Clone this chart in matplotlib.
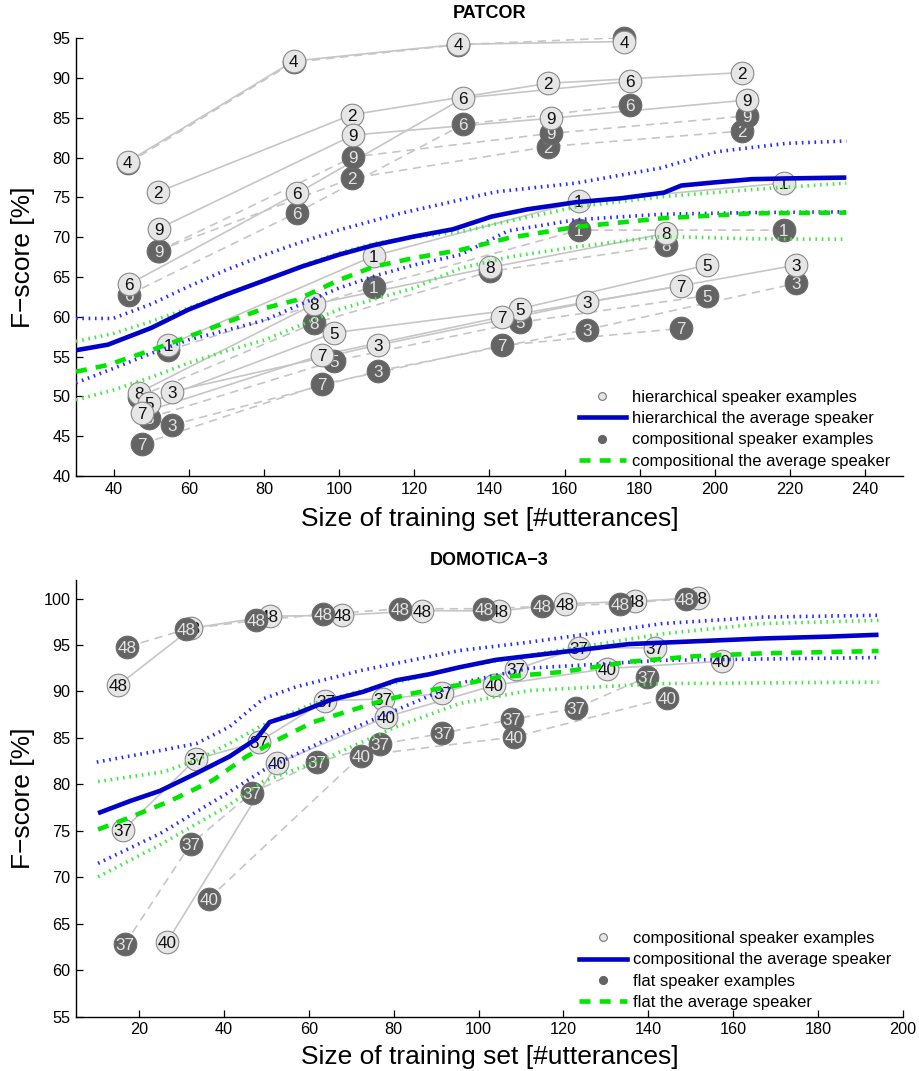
import matplotlib
matplotlib.use('Agg')
import matplotlib.pyplot as plt
from matplotlib.lines import Line2D

plt.rcParams['font.family'] = ['Liberation Sans', 'DejaVu Sans']

# ---------------- PATCOR (top) ----------------
p_labels = ['4', '2', '9', '6', '1', '8', '5', '7', '3']
p_x = [
    [43.8, 87.9, 131.7, 175.9],
    [51.7, 103.4, 155.6, 207.2],
    [52.1, 103.8, 156.3, 208.6],
    [44.1, 88.8, 133.1, 177.5],
    [54.6, 109.2, 163.8, 218.4],
    [46.7, 93.4, 140.25, 187.1],
    [49.4, 98.7, 148.05, 197.8],
    [47.5, 95.4, 143.4, 191.0],
    [55.5, 110.5, 166.0, 221.7],
]
p_hier = [
    [79.5, 92.15, 94.25, 94.6],
    [75.65, 85.4, 89.35, 90.7],
    [71.1, 82.85, 84.95, 87.25],
    [64.1, 75.5, 87.5, 89.6],
    [56.46, 67.65, 74.5, 76.8],
    [50.47, 61.6, 66.2, 70.5],
    [49.2, 58.0, 61.0, 66.5],
    [47.95, 55.2, 60.0, 63.9],
    [50.6, 56.46, 61.8, 66.5],
]
p_comp = [
    [79.3, 92.0, 94.2, 95.1],
    [68.3, 77.4, 81.4, 83.35],
    [68.3, 80.1, 83.05, 85.25],
    [62.8, 73.1, 84.2, 86.6],
    [55.8, 63.8, 70.9, 70.9],
    [49.96, 59.2, 65.7, 69.0],
    [47.3, 54.45, 59.3, 62.65],
    [44.0, 51.5, 56.4, 58.55],
    [46.4, 53.2, 58.4, 64.2],
]

p_hier_avg_x = [30, 38.5, 50, 59.9, 70, 80.3, 90, 99.9, 109.2, 120, 130.3, 140.6, 150, 163, 175, 186.4, 191.1, 200, 209.8, 220, 235]
p_hier_avg_y = [55.8, 56.5, 58.6, 60.9, 62.8, 64.6, 66.3, 67.8, 69.0, 70.1, 71.0, 72.6, 73.5, 74.4, 74.9, 75.6, 76.5, 76.9, 77.3, 77.4, 77.5]
p_hier_hi_x = [30, 39.9, 50, 59.9, 70, 80.3, 90, 99.9, 116.3, 141.6, 163, 185.5, 200.5, 219.1, 235]
p_hier_hi_y = [59.8, 59.8, 61.6, 63.8, 65.9, 67.8, 69.4, 70.9, 73.0, 75.7, 76.8, 78.7, 80.75, 81.8, 82.1]
p_hier_lo_x = [30, 39.9, 50, 59.9, 70, 80.3, 90, 99.9, 110, 119.8, 132.3, 145, 163, 186, 210, 235]
p_hier_lo_y = [51.7, 53.5, 55.4, 57.1, 58.3, 59.6, 61.6, 63.6, 65.2, 66.5, 67.8, 70.8, 72.2, 72.9, 73.1, 73.2]

p_comp_avg_x = [30, 38.5, 50, 59.9, 70, 80.3, 88.6, 99.9, 109.2, 120, 132.3, 145, 163, 186.4, 209.8, 235]
p_comp_avg_y = [53.1, 53.95, 55.8, 57.5, 59.3, 61.1, 62.1, 64.6, 66.3, 67.4, 68.4, 69.9, 71.3, 72.4, 73.0, 73.1]
p_comp_hi_x = [30, 39.9, 50, 59.9, 70, 80.3, 90, 99.9, 109.2, 120, 132.3, 145, 163, 186, 210, 235]
p_comp_hi_y = [56.9, 57.9, 59.4, 61.1, 62.9, 64.6, 66.4, 68.0, 69.2, 70.0, 70.7, 72.0, 73.8, 75.1, 76.0, 76.8]
p_comp_lo_x = [30, 39.9, 50, 59.9, 70, 80.3, 90, 99.9, 110, 119.8, 132.3, 145, 163, 186, 210, 235]
p_comp_lo_y = [49.55, 50.8, 52.4, 54.2, 55.7, 57.1, 59.0, 60.9, 62.3, 63.6, 66.1, 67.5, 68.8, 70.1, 69.8, 69.75]

p_legend = ['hierarchical speaker examples', 'hierarchical the average speaker',
            'compositional speaker examples', 'compositional the average speaker']
p_xticks = [40, 60, 80, 100, 120, 140, 160, 180, 200, 220, 240]
p_yticks = [40, 45, 50, 55, 60, 65, 70, 75, 80, 85, 90, 95]

# ---------------- DOMOTICA-3 (bottom) ----------------
d_labels = ['48', '37', '40']
d_comp_x = [
    [15.06, 32.3, 50.75, 67.85, 86.7, 104.9, 120.4, 137.0, 151.8],
    [16.2, 33.3, 48.2, 63.9, 77.4, 91.5, 108.9, 123.7, 141.6],
    [26.6, 52.5, 78.2, 103.7, 130.35, 157.3],
]
d_comp_y = [
    [90.67, 96.8, 98.1, 98.2, 98.7, 98.66, 99.45, 99.7, 100.1],
    [75.07, 82.7, 84.6, 89.0, 89.2, 89.8, 92.4, 94.7, 94.7],
    [63.06, 82.25, 87.25, 90.67, 92.46, 93.25],
]
d_flat_x = [
    [17.2, 31.15, 47.6, 63.3, 81.5, 101.3, 115.06, 133.3, 148.8],
    [16.6, 32.1, 46.6, 61.9, 76.8, 91.5, 107.85, 122.9, 139.8],
    [36.4, 72.35, 108.4, 144.5],
]
d_flat_y = [
    [94.8, 96.7, 97.65, 98.3, 98.9, 98.9, 99.16, 99.45, 99.99],
    [62.8, 73.57, 79.1, 82.4, 84.3, 85.5, 87.0, 88.2, 91.56],
    [67.7, 83.1, 85.1, 89.3],
]

d_comp_avg_x = [10.3, 17.8, 24.9, 33.5, 41.3, 47.6, 50.75, 57.0, 64.9, 72.7, 80.6, 88.4, 95.5, 104.1, 119.8, 135.5, 151.2, 166.8, 182.5, 194.3]
d_comp_avg_y = [76.9, 78.2, 79.3, 81.2, 83.0, 84.9, 86.7, 87.6, 89.05, 89.95, 91.2, 91.85, 92.6, 93.4, 94.25, 95.1, 95.4, 95.7, 95.9, 96.1]
d_comp_hi_x = [10.0, 25.65, 33.5, 41.3, 49.2, 57.0, 72.7, 95.5, 111.9, 143.3, 166.8, 194.3]
d_comp_hi_y = [82.4, 83.7, 84.4, 86.2, 89.2, 90.5, 92.3, 94.4, 95.3, 97.3, 98.0, 98.2]
d_comp_lo_x = [10.3, 24.9, 40.6, 49.2, 64.9, 80.6, 95.5, 111.9, 143.3, 194.3]
d_comp_lo_y = [71.5, 74.7, 79.0, 81.5, 85.0, 88.0, 90.9, 92.5, 93.35, 93.65]

d_flat_avg_x = [10.3, 17.0, 27.2, 32.7, 37.4, 45.3, 53.1, 61.0, 68.8, 76.6, 84.5, 95.5, 104.1, 119.8, 135.5, 151.2, 166.8, 194.3]
d_flat_avg_y = [75.15, 76.3, 78.2, 79.4, 80.45, 83.0, 84.9, 86.7, 87.8, 88.9, 89.8, 90.7, 91.5, 92.1, 93.2, 93.8, 94.1, 94.35]
d_flat_hi_x = [10.3, 25.65, 33.5, 41.3, 49.2, 61.0, 72.7, 95.5, 111.9, 143.3, 166.8, 194.3]
d_flat_hi_y = [80.3, 81.35, 82.6, 84.4, 86.4, 88.7, 90.1, 92.6, 93.9, 96.2, 97.3, 97.65]
d_flat_lo_x = [10.3, 24.9, 40.6, 49.2, 64.9, 80.6, 95.5, 111.9, 143.3, 194.3]
d_flat_lo_y = [70.05, 73.5, 77.6, 80.3, 83.0, 86.2, 88.7, 90.1, 90.85, 91.0]

d_legend = ['compositional speaker examples', 'compositional the average speaker',
            'flat speaker examples', 'flat the average speaker']
d_xticks = [20, 40, 60, 80, 100, 120, 140, 160, 180, 200]
d_yticks = [55, 60, 65, 70, 75, 80, 85, 90, 95, 100]

# ---------------- styles ----------------
LIGHT_FILL = '#e6e6e6'
LIGHT_EDGE = '#8a8a8a'
DARK_FILL = '#646464'
DARK_EDGE = '#6c6c6c'
DARK_TEXT = '#e4e4e4'
GRAY = '#c6c6c6'
BLUE = '#0000c8'
BLUE_DOT = '#2a2aff'
GREEN = '#00e600'
GREEN_DOT = '#44e844'
MS = 16.3
NUM_FS = 12.3


def draw_examples(ax, labels, xs, ys, light, z0):
    z = z0
    for lab, x, y in zip(labels, xs, ys):
        ax.plot(x, y, color=GRAY, lw=1.2, zorder=1.5,
                ls='-' if light else (0, (5, 3.5)))
    for lab, x, y in zip(labels, xs, ys):
        ax.plot(x, y, ls='none', marker='o', ms=MS,
                mfc=LIGHT_FILL if light else DARK_FILL,
                mec=LIGHT_EDGE if light else DARK_EDGE, mew=0.8,
                zorder=z, clip_on=False)
        for xi, yi in zip(x, y):
            ax.text(xi, yi, lab, ha='center', va='center_baseline', fontsize=NUM_FS,
                    color='#111111' if light else DARK_TEXT, zorder=z + 0.01)
        z += 0.02
    return z


def draw_avgs(ax, ax_x, ax_y, hi_x, hi_y, lo_x, lo_y, color, dotcolor, solid):
    dot = (0, (0.45, 1.3))
    ax.plot(hi_x, hi_y, color=dotcolor, lw=2.6, ls=dot, dash_capstyle='butt', zorder=5)
    ax.plot(lo_x, lo_y, color=dotcolor, lw=2.6, ls=dot, dash_capstyle='butt', zorder=5)
    if solid:
        ax.plot(ax_x, ax_y, color=color, lw=3.3, zorder=6, solid_capstyle='butt')
    else:
        ax.plot(ax_x, ax_y, color=color, lw=3.3, ls=(0, (2.4, 2.0)),
                dash_capstyle='butt', zorder=6)


def style_axes(ax, xlim, ylim, xticks, yticks, title, leg_labels, leg_anchor, xlab_y, title_pad):
    ax.set_xlim(*xlim)
    ax.set_ylim(*ylim)
    ax.set_xticks(xticks)
    ax.set_yticks(yticks)
    for s in ['top', 'right']:
        ax.spines[s].set_visible(False)
    ax.spines['left'].set_linewidth(1.0)
    ax.spines['bottom'].set_linewidth(1.0)
    ax.tick_params(direction='in', length=5, width=0.9, labelsize=11.7, pad=4)
    ax.set_title(title, fontsize=13, fontweight='bold', pad=title_pad)
    ax.set_xlabel('Size of training set [#utterances]', fontsize=19)
    ax.set_ylabel('F\u2212score [%]', fontsize=19)
    ax.yaxis.set_label_coords(-0.049, 0.5)
    ax.xaxis.set_label_coords(0.5, xlab_y)
    handles = [
        Line2D([], [], ls='none', marker='o', ms=5.6, mfc=LIGHT_FILL, mec='#777777', mew=0.8),
        Line2D([], [], color=BLUE, lw=3.3),
        Line2D([], [], ls='none', marker='o', ms=5.6, mfc=DARK_FILL, mec=DARK_FILL),
        Line2D([], [], color=GREEN, lw=3.3, ls=(0, (2.4, 2.0))),
    ]
    ax.legend(handles, leg_labels, loc='upper left', bbox_to_anchor=leg_anchor,
              frameon=False, fontsize=11.9, handlelength=2.87, handletextpad=0.36,
              labelspacing=0.38, borderpad=0, borderaxespad=0)


fig = plt.figure(figsize=(9.2, 10.71), dpi=100)
ax1 = fig.add_axes([0.0826, 0.5556, 0.8986, 0.4086])
ax2 = fig.add_axes([0.0826, 0.0507, 0.8986, 0.4078])

# top: compositional (dark) below hierarchical (light)
z = draw_examples(ax1, p_labels, p_x, p_comp, False, 3.0)
draw_examples(ax1, p_labels, p_x, p_hier, True, z)
draw_avgs(ax1, p_hier_avg_x, p_hier_avg_y, p_hier_hi_x, p_hier_hi_y, p_hier_lo_x, p_hier_lo_y, BLUE, BLUE_DOT, True)
draw_avgs(ax1, p_comp_avg_x, p_comp_avg_y, p_comp_hi_x, p_comp_hi_y, p_comp_lo_x, p_comp_lo_y, GREEN, GREEN_DOT, False)
style_axes(ax1, (30, 250), (40, 95), p_xticks, p_yticks, 'PATCOR', p_legend, (0.608, 0.197), -0.07, 15)

# bottom: flat (dark) above compositional (light)
z = draw_examples(ax2, d_labels, d_comp_x, d_comp_y, True, 3.0)
draw_examples(ax2, d_labels, d_flat_x, d_flat_y, False, z)
draw_avgs(ax2, d_comp_avg_x, d_comp_avg_y, d_comp_hi_x, d_comp_hi_y, d_comp_lo_x, d_comp_lo_y, BLUE, BLUE_DOT, True)
draw_avgs(ax2, d_flat_avg_x, d_flat_avg_y, d_flat_hi_x, d_flat_hi_y, d_flat_lo_x, d_flat_lo_y, GREEN, GREEN_DOT, False)
style_axes(ax2, (5.1, 200), (55, 102), d_xticks, d_yticks, 'DOMOTICA\u22123', d_legend, (0.6086, 0.196), -0.064, 11)

fig.savefig('out.png', dpi=100)
